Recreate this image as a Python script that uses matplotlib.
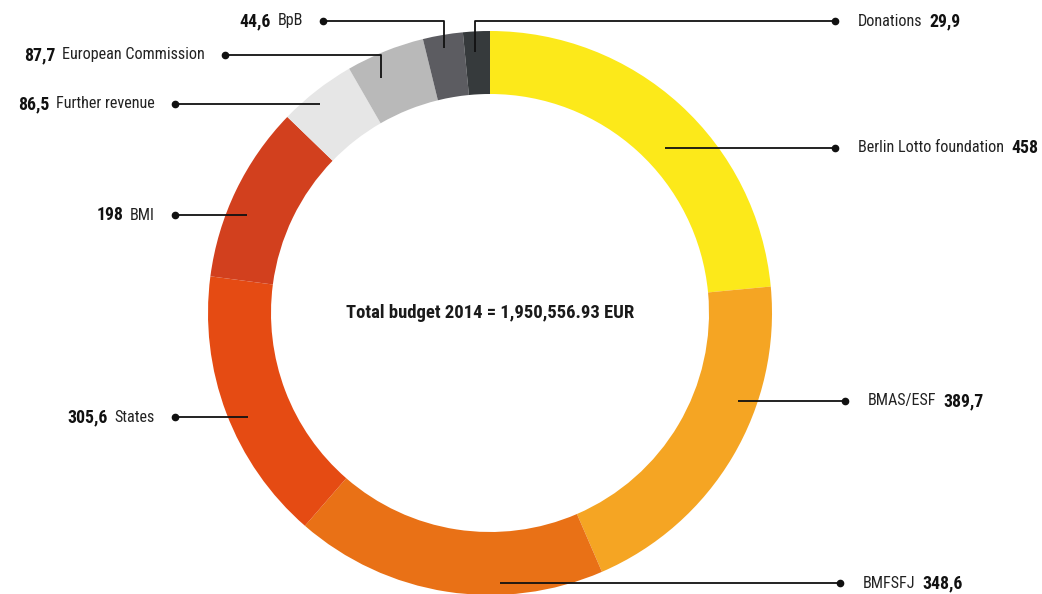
import matplotlib
matplotlib.use("Agg")
import matplotlib.pyplot as plt
from matplotlib import font_manager

# Budget 2014, thousand EUR (clockwise from 12 o'clock)
names = [
    "Berlin Lotto foundation", "BMAS/ESF", "BMFSFJ", "States", "BMI",
    "Further revenue", "European Commission", "BpB", "Donations",
]
values = [458, 389.7, 348.6, 305.6, 198, 86.5, 87.7, 44.6, 29.9]
value_labels = ["458", "389,7", "348,6", "305,6", "198",
                "86,5", "87,7", "44,6", "29,9"]
colors = ["#FCE91A", "#F5A523", "#E97116", "#E54B13", "#D2401E",
          "#E6E6E6", "#B9B9B9", "#5C5C61", "#363A3C"]
title = "Total budget 2014 = 1,950,556.93 EUR"

# leader lines in pixel coords (y from top): path points, last point = dot
leaders = [
    [(665, 148), (835, 148)],
    [(738, 401), (845, 401)],
    [(500, 583), (840, 583)],
    [(248, 417), (175, 417)],
    [(247, 215), (175, 215)],
    [(320, 104), (175, 104)],
    [(381, 78), (381, 55), (225, 55)],
    [(444, 48), (444, 21), (323, 21)],
    [(475, 52), (475, 21), (835, 21)],
]

# pick a condensed face if one is installed
entries = font_manager.fontManager.ttflist
avail = {f.name for f in entries}
family, stretch = "DejaVu Sans", "normal"
for cand in ["Liberation Sans Narrow", "Roboto Condensed", "Open Sans Condensed",
             "Noto Sans Condensed", "DejaVu Sans Condensed"]:
    if cand in avail:
        family = cand
        break
else:
    if any(f.name == "DejaVu Sans" and f.stretch == "condensed" for f in entries):
        stretch = "condensed"
plt.rcParams["font.family"] = [family, "DejaVu Sans"]
plt.rcParams["font.stretch"] = stretch

W, H = 1042, 594
fig = plt.figure(figsize=(W / 100, H / 100), dpi=100)
ax = fig.add_axes([0, 0, 1, 1])

cx, cy, r_out, width = 490, 313, 282, 63
ax.pie(
    values,
    colors=colors,
    startangle=270,
    counterclock=True,
    center=(cx, cy),
    radius=r_out,
    wedgeprops={"width": width, "linewidth": 0},
    frame=True,
)
ax.set_xlim(0, W)
ax.set_ylim(H, 0)
ax.set_aspect("equal")
ax.axis("off")

fig.canvas.draw()
renderer = fig.canvas.get_renderer()

# scale the font so the longest label gets the reference width (~146 px)
probe = ax.text(0, 0, "Berlin Lotto foundation", fontsize=10)
pw = probe.get_window_extent(renderer).width
probe.remove()
fs = min(12, 10 * 146 / pw)
fs_val = fs * 1.1

ax.text(cx, cy, title, ha="center", va="center", fontsize=fs * 1.15,
        fontweight="bold", color="#1a1a1a")

gap = 7
inv = ax.transData.inverted()
for name, vlab, pts in zip(names, value_labels, leaders):
    xs = [p[0] for p in pts]
    ys = [p[1] for p in pts]
    ax.plot(xs, ys, color="#111111", lw=1.3, solid_capstyle="butt")
    ax.plot(xs[-1], ys[-1], "o", color="#111111", ms=4.5)
    if xs[-1] > xs[0]:
        t = ax.text(xs[-1] + 23, ys[-1], name, ha="left", va="center",
                    fontsize=fs, color="#222222")
        bb = t.get_window_extent(renderer)
        x_next = inv.transform((bb.x1 + gap, 0))[0]
        ax.text(x_next, ys[-1], vlab, ha="left", va="center",
                fontsize=fs_val, fontweight="bold", color="#111111")
    else:
        t = ax.text(xs[-1] - 20, ys[-1], name, ha="right", va="center",
                    fontsize=fs, color="#222222")
        bb = t.get_window_extent(renderer)
        x_next = inv.transform((bb.x0 - gap, 0))[0]
        ax.text(x_next, ys[-1], vlab, ha="right", va="center",
                fontsize=fs_val, fontweight="bold", color="#111111")

fig.savefig("out.png", dpi=100)
